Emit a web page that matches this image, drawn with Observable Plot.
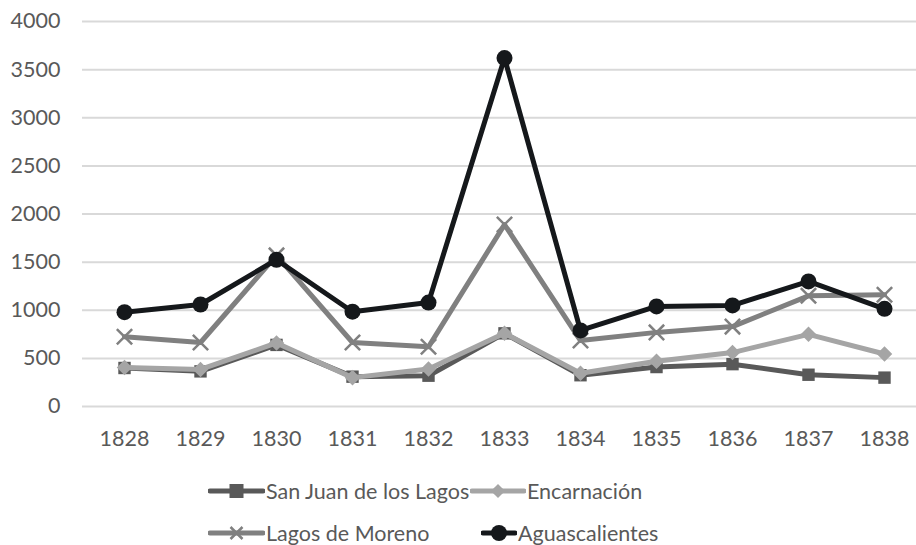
<!DOCTYPE html>
<html>
<head>
<meta charset="utf-8">
<script src="https://cdn.jsdelivr.net/npm/d3@7"></script>
<script src="https://cdn.jsdelivr.net/npm/@observablehq/plot@0.6"></script>
<style>
  body { margin: 0; background: #fff; font-family: Lato, "Open Sans", sans-serif; }
  #chart { position: relative; width: 916px; height: 545px; overflow: hidden; }
  .leg { position: absolute; display: flex; align-items: center; font-size: 21.5px; color: #595959; white-space: nowrap; }
  .leg svg { display: block; }
</style>
</head>
<body>
<div id="chart"></div>
<script>
const years = ["1828","1829","1830","1831","1832","1833","1834","1835","1836","1837","1838"];
const seriesNames = ["San Juan de los Lagos", "Encarnación", "Lagos de Moreno", "Aguascalientes"];
const sanJuan = [400, 365, 640, 310, 320, 760, 325, 410, 440, 330, 300];
const encarnacion = [405, 385, 660, 300, 390, 760, 345, 470, 560, 750, 545];
const lagosMoreno = [725, 665, 1570, 665, 620, 1890, 685, 770, 830, 1150, 1160];
const aguascalientes = [980, 1060, 1525, 985, 1080, 3620, 790, 1040, 1050, 1300, 1015];
const yTicks = [0, 500, 1000, 1500, 2000, 2500, 3000, 3500, 4000];

const styles = {
  "San Juan de los Lagos": {color: "#595959", symbol: "square", r: 7},
  "Encarnación": {color: "#a5a5a5", symbol: "diamond2", r: 7},
  "Lagos de Moreno": {color: "#808080", symbol: "times", r: 7},
  "Aguascalientes": {color: "#15181b", symbol: "circle", r: 8}
};

const valuesBySeries = [sanJuan, encarnacion, lagosMoreno, aguascalientes];
const data = [];
seriesNames.forEach((s, i) => years.forEach((y, j) => data.push({series: s, year: y, value: valuesBySeries[i][j]})));

const marks = [
  Plot.ruleY(yTicks, {stroke: "#d9d9d9", strokeWidth: 2}),
  Plot.axisY({ticks: yTicks, tickFormat: d => String(d), tickSize: 0, tickPadding: 22, fontSize: 21.5, fill: "#595959", label: null}),
  Plot.axisX({tickSize: 0, tickPadding: 24, fontSize: 21.5, fill: "#595959", label: null})
];
for (const s of seriesNames) {
  const st = styles[s];
  const d = data.filter(e => e.series === s);
  marks.push(Plot.line(d, {x: "year", y: "value", stroke: st.color, strokeWidth: 5}));
  if (st.symbol === "times") {
    marks.push(Plot.dot(d, {x: "year", y: "value", symbol: "times", r: st.r, stroke: st.color, strokeWidth: 2.5}));
  } else {
    marks.push(Plot.dot(d, {x: "year", y: "value", symbol: st.symbol, r: st.r, fill: st.color, stroke: "none"}));
  }
}

const plot = Plot.plot({
  width: 916,
  height: 460,
  marginLeft: 82,
  marginRight: 0,
  marginTop: 21,
  marginBottom: 54,
  style: {fontFamily: "Lato, 'Open Sans', sans-serif", background: "#fff"},
  x: {type: "point", domain: years, range: [120, 888], padding: 0},
  y: {domain: [0, 4000]},
  marks
});
const chart = document.getElementById("chart");
chart.appendChild(plot);

// Legend
const legendPos = [
  {left: 208, top: 491, sw: 57},
  {left: 470, top: 491, sw: 56},
  {left: 208, top: 533, sw: 57},
  {left: 481, top: 533, sw: 36}
];
seriesNames.forEach((s, i) => {
  const st = styles[s];
  const p = legendPos[i];
  const div = document.createElement("div");
  div.className = "leg";
  div.style.left = p.left + "px";
  div.style.top = (p.top - 14) + "px";
  div.style.height = "28px";
  const w = p.sw, h = 28, cx = w / 2, cy = h / 2;
  let marker = "";
  if (st.symbol === "square") marker = `<rect x="${cx-7}" y="${cy-7}" width="14" height="14" fill="${st.color}"/>`;
  else if (st.symbol === "diamond2") marker = `<rect x="${cx-5}" y="${cy-5}" width="10" height="10" fill="${st.color}" transform="rotate(45 ${cx} ${cy})"/>`;
  else if (st.symbol === "times") marker = `<path d="M${cx-6},${cy-6}L${cx+6},${cy+6}M${cx-6},${cy+6}L${cx+6},${cy-6}" stroke="${st.color}" stroke-width="2.5"/>`;
  else marker = `<circle cx="${cx}" cy="${cy}" r="8" fill="${st.color}"/>`;
  div.innerHTML = `<svg width="${w}" height="${h}"><line x1="2" x2="${w-2}" y1="${cy}" y2="${cy}" stroke="${st.color}" stroke-width="5" stroke-linecap="round"/>${marker}</svg><span style="margin-left:1px">${s}</span>`;
  chart.appendChild(div);
});
</script>
</body>
</html>
